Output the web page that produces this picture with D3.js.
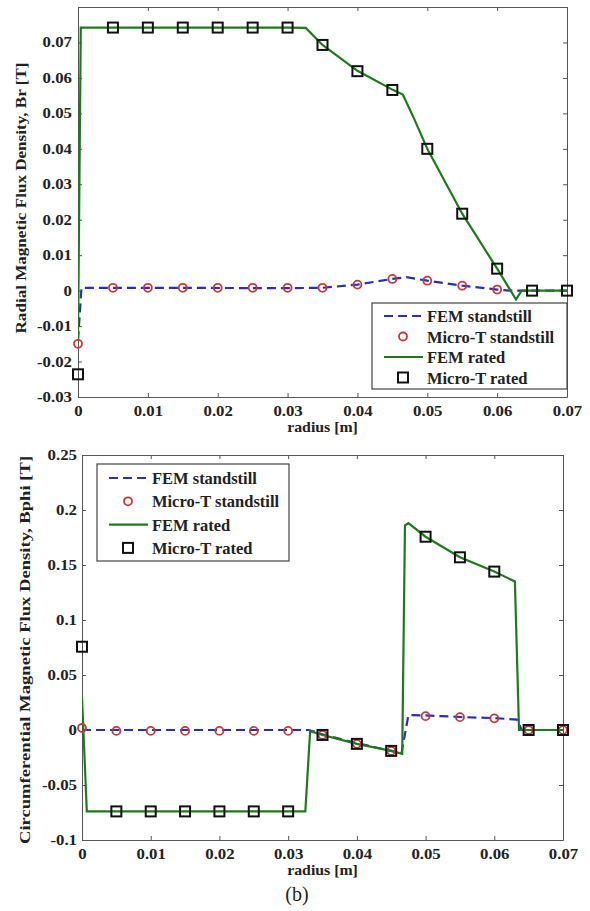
<!DOCTYPE html>
<html>
<head>
<meta charset="utf-8">
<script src="https://cdn.jsdelivr.net/npm/d3@7"></script>
<style>
  body { margin: 0; background: #fff; }
  svg text { font-family: "Liberation Serif", "DejaVu Serif", serif; fill: #222; }
</style>
</head>
<body>
<svg id="chart" width="590" height="911"></svg>
<script>
// marker radii (Micro-T samples)
const markerR = [0, 0.005, 0.01, 0.015, 0.02, 0.025, 0.03, 0.035, 0.04, 0.045, 0.05, 0.055, 0.06, 0.065, 0.07]

// --- panel 1: radial flux density Br ---
const brFemStandR = [0, 0.0005, 0.01, 0.03, 0.035, 0.04, 0.045, 0.047, 0.05, 0.055, 0.06, 0.062, 0.07]
const brFemStandB = [-0.014, 0.0008, 0.0008, 0.0007, 0.0008, 0.0017, 0.0033, 0.0038, 0.0028, 0.0014, 0.0003, 0, 0]
const brMicroStand = [-0.015, 0.0008, 0.0008, 0.0008, 0.0008, 0.0008, 0.0008, 0.0008, 0.0017, 0.0033, 0.0028, 0.0014, 0.0003, null, null]
const brFemRatedR = [0, 0.0004, 0.03, 0.0326, 0.035, 0.04, 0.045, 0.0465, 0.048, 0.05, 0.055, 0.06, 0.0627, 0.0635, 0.07]
const brFemRatedB = [-0.014, 0.0742, 0.0742, 0.0741, 0.0693, 0.062, 0.0567, 0.0553, 0.049, 0.040, 0.0217, 0.0062, -0.0025, 0, 0]
const brMicroRated = [-0.0236, 0.0742, 0.0742, 0.0742, 0.0742, 0.0742, 0.0742, 0.0693, 0.0619, 0.0566, 0.040, 0.0217, 0.0062, 0, 0]
const brTicks = [-0.03, -0.02, -0.01, 0, 0.01, 0.02, 0.03, 0.04, 0.05, 0.06, 0.07]

// --- panel 2: circumferential flux density Bphi ---
const bpFemStandR = [0, 0.033, 0.035, 0.04, 0.045, 0.0465, 0.0475, 0.05, 0.055, 0.06, 0.0633, 0.064, 0.07]
const bpFemStandB = [0, 0, -0.004, -0.012, -0.019, -0.021, 0.0135, 0.0133, 0.0118, 0.0108, 0.0095, 0, 0]
const bpMicroStand = [0.0018, -0.0008, -0.0008, -0.0008, -0.0008, -0.0008, -0.0008, -0.0045, -0.0126, -0.019, 0.0126, 0.0117, 0.0106, 0, 0]
const bpFemRatedR = [0, 0.0007, 0.0325, 0.0332, 0.035, 0.04, 0.045, 0.0466, 0.047, 0.0475, 0.05, 0.055, 0.06, 0.063, 0.0636, 0.07]
const bpFemRatedB = [0.03, -0.074, -0.074, -0.001, -0.0045, -0.0126, -0.019, -0.0216, 0.186, 0.188, 0.1757, 0.157, 0.144, 0.135, 0, 0]
const bpMicroRated = [0.0757, -0.074, -0.074, -0.074, -0.074, -0.074, -0.074, -0.0045, -0.0126, -0.019, 0.1757, 0.157, 0.144, 0, 0]
const bpTicks = [-0.1, -0.05, 0, 0.05, 0.1, 0.15, 0.2, 0.25]

const xTicks = [0, 0.01, 0.02, 0.03, 0.04, 0.05, 0.06, 0.07]
const legendNames = ['FEM standstill', 'Micro-T standstill', 'FEM rated', 'Micro-T rated']

const blue = '#2b2fb0', green = '#1f7a1f', red = '#c83a3a'
const svg = d3.select('#chart')
// the source picture is stretched, so tick text gets widened along its baseline
const stretch = 1.2

function zip(xs, ys) { return xs.map((x, i) => ({ x, y: ys[i] })) }

function drawPanel(p) {
    const x = d3.scaleLinear().domain([0, 0.07]).range([p.left, p.right])
    const y = d3.scaleLinear().domain(p.yDomain).range([p.bottom, p.top])
    const g = svg.append('g')

    // axes with inward ticks on all four sides
    const fmt = d => d === 0 ? '0' : String(d)
    const tl = -4
    const xAxis = g.append('g').attr('transform', `translate(0,${p.bottom})`)
        .call(d3.axisBottom(x).tickValues(xTicks).tickFormat(fmt).tickSizeInner(tl).tickSizeOuter(0).tickPadding(9))
    g.append('g').attr('transform', `translate(0,${p.top})`)
        .call(d3.axisTop(x).tickValues(xTicks).tickFormat('').tickSizeInner(tl).tickSizeOuter(0))
    const yAxis = g.append('g').attr('transform', `translate(${p.left},0)`)
        .call(d3.axisLeft(y).tickValues(p.yTicks).tickFormat(fmt).tickSizeInner(tl).tickSizeOuter(0))
    g.append('g').attr('transform', `translate(${p.right},0)`)
        .call(d3.axisRight(y).tickValues(p.yTicks).tickFormat('').tickSizeInner(tl).tickSizeOuter(0))
    g.selectAll('.domain').attr('stroke', '#555')
    g.selectAll('.tick line').attr('stroke', '#555')
    g.selectAll('.tick text').attr('font-size', 14).attr('font-weight', 'bold')
        .attr('font-family', '"Liberation Serif", serif').attr('fill', '#222')
    xAxis.selectAll('.tick text').attr('transform', `scale(${stretch},1)`)
    yAxis.selectAll('.tick text').attr('x', -p.tickGap / stretch).attr('transform', `scale(${stretch},1)`)

    const clipId = 'clip' + p.id
    svg.append('clipPath').attr('id', clipId).append('rect')
        .attr('x', p.left).attr('y', p.top).attr('width', p.right - p.left).attr('height', p.bottom - p.top)
    const plot = g.append('g')
    const line = d3.line().x(d => x(d.x)).y(d => y(d.y))

    plot.append('path').datum(zip(p.standR, p.standB))
        .attr('clip-path', `url(#${clipId})`)
        .attr('fill', 'none').attr('stroke', blue).attr('stroke-width', 2.2)
        .attr('stroke-dasharray', '9,5').attr('d', line)
    plot.append('path').datum(zip(p.ratedR, p.ratedB))
        .attr('clip-path', `url(#${clipId})`)
        .attr('fill', 'none').attr('stroke', green).attr('stroke-width', 2.2).attr('d', line)

    plot.selectAll('circle.ms').data(zip(markerR, p.microStand).filter(d => d.y !== null))
        .join('circle').attr('class', 'ms')
        .attr('cx', d => x(d.x)).attr('cy', d => y(d.y)).attr('r', 4)
        .attr('fill', 'none').attr('stroke', red).attr('stroke-width', 1.8)
    plot.selectAll('rect.mr').data(zip(markerR, p.microRated))
        .join('rect').attr('class', 'mr')
        .attr('x', d => x(d.x) - 5).attr('y', d => y(d.y) - 5).attr('width', 10).attr('height', 10)
        .attr('fill', 'none').attr('stroke', '#111').attr('stroke-width', 2)

    // axis titles
    g.append('text').attr('transform', `translate(${(p.left + p.right) / 2},${p.bottom + 35}) scale(1.13,1)`)
        .attr('text-anchor', 'middle').attr('font-size', 14).attr('font-weight', 'bold').text('radius [m]')
    g.append('text').attr('transform', `translate(${p.yLabelX},${p.yLabelY}) rotate(-90) scale(${p.yLabelStretch},1)`)
        .attr('text-anchor', 'middle').attr('font-size', 14).attr('font-weight', 'bold').text(p.yLabel)

    // legend
    const L = p.legend
    const lg = g.append('g').attr('transform', `translate(${L.x},${L.y})`)
    lg.append('rect').attr('width', L.w).attr('height', L.h)
        .attr('fill', '#fff').attr('stroke', '#444').attr('stroke-width', 1.2)
    legendNames.forEach((name, i) => {
        const ry = L.first + i * L.step
        const row = lg.append('g').attr('transform', `translate(0,${ry})`)
        if (i === 0) row.append('line').attr('x1', 12).attr('x2', 51).attr('stroke', blue)
            .attr('stroke-width', 2.2).attr('stroke-dasharray', '9,5')
        if (i === 2) row.append('line').attr('x1', 12).attr('x2', 51).attr('stroke', green).attr('stroke-width', 2.2)
        if (i === 1) row.append('circle').attr('cx', 31).attr('r', 4)
            .attr('fill', 'none').attr('stroke', red).attr('stroke-width', 1.8)
        if (i === 3) row.append('rect').attr('x', 26).attr('y', -5).attr('width', 10).attr('height', 10)
            .attr('fill', 'none').attr('stroke', '#111').attr('stroke-width', 2)
        row.append('text').attr('transform', `translate(55,6) scale(1.03,1)`)
            .attr('font-size', 16).attr('font-weight', 'bold').text(name)
    })
}

drawPanel({
    id: 1, left: 78, right: 567, top: 7, bottom: 397,
    yDomain: [-0.03, 0.08], yTicks: brTicks, tickGap: 6,
    yLabelX: 26, yLabelY: 198, yLabelStretch: 1.22,
    yLabel: 'Radial Magnetic Flux Density, Br [T]',
    standR: brFemStandR, standB: brFemStandB, microStand: brMicroStand,
    ratedR: brFemRatedR, ratedB: brFemRatedB, microRated: brMicroRated,
    legend: { x: 372, y: 303, w: 195, h: 86, first: 13, step: 20.5 }
})

drawPanel({
    id: 2, left: 82, right: 563, top: 455, bottom: 840,
    yDomain: [-0.1, 0.25], yTicks: bpTicks, tickGap: 5,
    yLabelX: 30, yLabelY: 650, yLabelStretch: 1.33,
    yLabel: 'Circumferential Magnetic Flux Density, Bphi [T]',
    standR: bpFemStandR, standB: bpFemStandB, microStand: bpMicroStand,
    ratedR: bpFemRatedR, ratedB: bpFemRatedB, microRated: bpMicroRated,
    legend: { x: 97, y: 464, w: 192, h: 97, first: 14, step: 23.3 }
})

svg.append('text').attr('x', 297).attr('y', 901).attr('text-anchor', 'middle')
    .attr('font-size', 20).text('(b)')
</script>
</body>
</html>
